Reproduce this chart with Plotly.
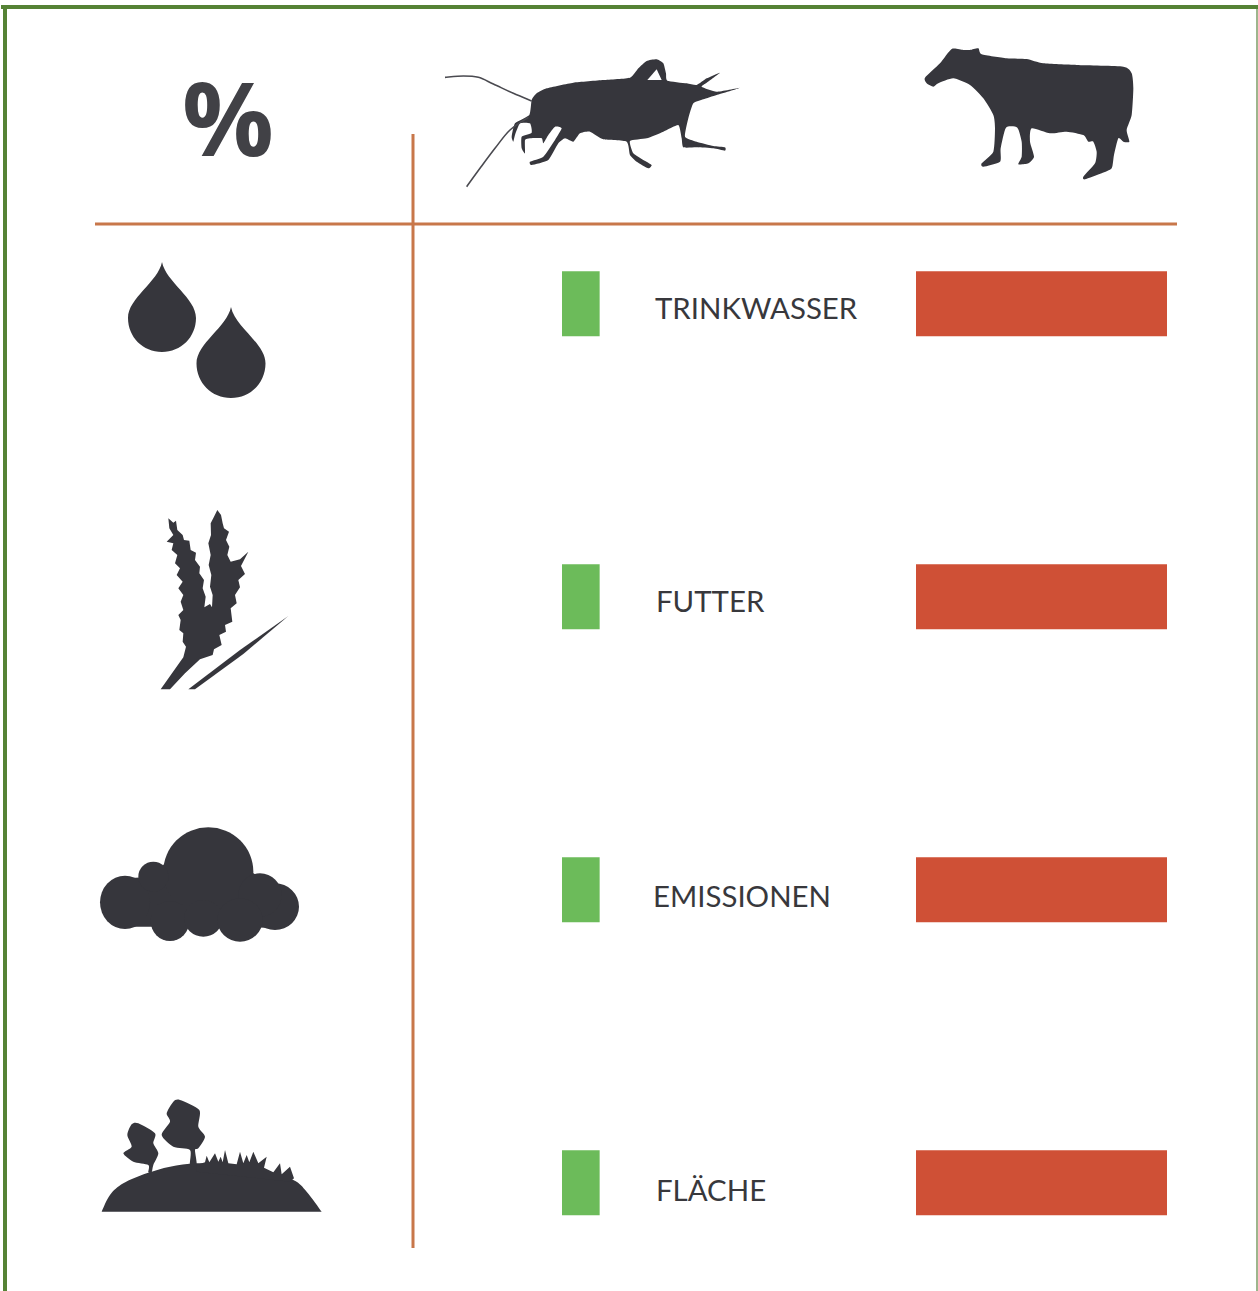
import plotly.graph_objects as go

W, H = 1258, 1291

# ---- data ----
categories = ["TRINKWASSER", "FUTTER", "EMISSIONEN", "FLÄCHE"]
grille_values = [15, 15, 15, 15]
rind_values = [100, 100, 100, 100]
symbol_label = "%"

INK = "#36363c"
RULE = "#c8774a"
GREEN = "#6cbb5a"
RED = "#cf5036"
FRAME = "#558235"
LABEL_X = [653, 654, 651, 654]
LABEL_Y = [307, 600.5, 895, 1189]


def pt(x, y, ox, oy, scale=3.0):
    return f"{(ox + x / scale) / W:.5f},{1 - (oy + y / scale) / H:.5f}"


def to_path(points, ox, oy, scale=3.0):
    """Straight-edged icon outline given in crop coordinates -> paper coordinates."""
    segs = [f"{'M' if i == 0 else 'L'}{pt(x, y, ox, oy, scale)}" for i, (x, y) in enumerate(points)]
    return " ".join(segs) + " Z"


def spline(points, ox, oy, closed=True, close_straight=False, scale=3.0, soft=6):
    """Catmull-Rom curve through the outline points; a larger soft gives tighter corners."""
    n = len(points)
    out = [f"M{pt(*points[0], ox, oy, scale)}"]
    count = n if closed else n - 1
    for i in range(count):
        if closed:
            p0, p1, p2, p3 = points[(i - 1) % n], points[i], points[(i + 1) % n], points[(i + 2) % n]
        else:
            p0, p1, p2, p3 = points[max(i - 1, 0)], points[i], points[i + 1], points[min(i + 2, n - 1)]
        c1 = (p1[0] + (p2[0] - p0[0]) / soft, p1[1] + (p2[1] - p0[1]) / soft)
        c2 = (p2[0] - (p3[0] - p1[0]) / soft, p2[1] - (p3[1] - p1[1]) / soft)
        out.append(f"C{pt(*c1, ox, oy, scale)} {pt(*c2, ox, oy, scale)} {pt(*p2, ox, oy, scale)}")
    if closed or close_straight:
        out.append("Z")
    return " ".join(out)


def blob(path, color=INK):
    return dict(type="path", xref="paper", yref="paper", path=path,
                fillcolor=color, line=dict(width=0), layer="above")


def stroke(path, width=1.6, color="#4a4a50"):
    return dict(type="path", xref="paper", yref="paper", path=path,
                line=dict(width=width, color=color), layer="above")


def ell(cx, cy, rx, ry, ox, oy, scale=3.0):
    x0 = (ox + (cx - rx) / scale) / W
    x1 = (ox + (cx + rx) / scale) / W
    y0 = 1 - (oy + (cy - ry) / scale) / H
    y1 = 1 - (oy + (cy + ry) / scale) / H
    return dict(type="circle", xref="paper", yref="paper", x0=x0, x1=x1, y0=y0, y1=y1,
                fillcolor=INK, line=dict(width=0), layer="above")


def hline(x0, x1, y, width, color):
    return dict(type="line", xref="paper", yref="paper", x0=x0 / W, x1=x1 / W,
                y0=1 - y / H, y1=1 - y / H, line=dict(color=color, width=width), layer="above")


def vline(x, y0, y1, width, color):
    return dict(type="line", xref="paper", yref="paper", x0=x / W, x1=x / W,
                y0=1 - y0 / H, y1=1 - y1 / H, line=dict(color=color, width=width), layer="above")


def drop(tipx, tipy, r, h):
    px = lambda x, y: f"{x / W:.5f},{1 - y / H:.5f}"
    b = tipy + h
    cy = b - r
    k = r * 0.56
    return (f"M{px(tipx, tipy)} "
            f"C{px(tipx + 4, tipy + 20)} {px(tipx + r, cy - 20)} {px(tipx + r, cy)} "
            f"C{px(tipx + r, cy + k)} {px(tipx + k, b)} {px(tipx, b)} "
            f"C{px(tipx - k, b)} {px(tipx - r, cy + k)} {px(tipx - r, cy)} "
            f"C{px(tipx - r, cy - 20)} {px(tipx - 4, tipy + 20)} {px(tipx, tipy)} Z")


cricket = [(305,180),(320,160),(350,145),(430,128),(520,120),(600,113),(625,85),(650,63),(680,58),(700,70),
           (708,100),(712,122),(770,130),(800,135),(830,115),(870,98),(830,128),(815,140),(860,155),(930,143),
           (860,165),(820,178),(790,190),(775,235),(765,290),(800,305),(850,318),(885,322),(885,332),(850,325),
           (800,322),(760,322),(755,295),(745,255),(700,275),(650,295),(600,303),(610,340),(640,360),(665,375),
           (655,385),(620,365),(600,345),(590,305),(520,298),(480,275),(450,280),(430,305),(405,295),(385,310),
           (355,360),(305,375),(300,365),(340,350),(375,300),(395,265),(375,260),(355,285),(340,310),(335,295),
           (300,295),(285,300),(285,340),(275,325),(275,290),(305,278),(300,250),(270,250),(255,285),(250,305),
           (245,290),(255,250),(298,225)]
cricket_hole = [(652,120),(680,88),(695,120)]
antenna_a = [(45,112),(100,108),(145,112),(190,132),(250,160),(305,183)]
antenna_b = [(295,232),(240,270),(195,325),(150,385),(110,440)]
cow = [(45,128),(90,85),(125,42),(160,45),(180,45),(205,40),(215,58),(290,70),(350,72),(400,85),(500,90),(640,95),
       (665,115),(670,160),(665,240),(650,285),(658,320),(640,320),(625,310),(612,360),(605,400),(575,415),(525,433),
       (520,425),(555,385),(560,350),(550,320),(535,320),(520,300),(470,290),(420,295),(365,280),(360,320),(372,365),
       (355,385),(325,388),(335,365),(335,320),(322,278),(288,278),(272,340),(270,380),(220,395),(215,385),(250,350),
       (255,280),(250,240),(220,190),(180,150),(130,130),(85,145),(70,155),(50,145)]
wheat = [(85,55),(100,68),(108,62),(112,90),(128,105),(132,120),(148,122),(152,150),(168,158),(165,180),(180,200),
         (178,220),(192,240),(188,265),(197,290),(193,322),(210,312),(216,322),(218,285),(210,260),(214,225),(206,195),
         (212,165),(205,130),(213,105),(212,70),(222,50),(232,30),(243,45),(248,70),(252,85),(267,95),(258,120),(268,140),
         (262,165),(272,185),(300,178),(325,155),(303,198),(315,222),(295,240),(300,262),(285,285),(290,310),(272,325),
         (277,365),(255,375),(258,395),(238,405),(245,435),(222,448),(218,465),(180,478),(135,520),(90,568),(62,568),
         (130,472),(138,440),(128,425),(130,400),(118,390),(122,360),(115,345),(130,330),(122,305),(130,285),(115,265),
         (128,245),(110,225),(120,205),(105,190),(112,165),(95,150),(100,130),(80,125),(100,105),(88,85)]
straw = [(145,568),(300,450),(445,348),(310,462),(165,568)]
hill = [(35,380),(60,330),(100,295),(170,265),(240,245),(320,235),(420,238),(520,255),(610,285),(650,320),(695,380)]
tree_small = [(175,262),(175,240),(130,230),(100,205),(125,185),(112,150),(125,118),(145,115),(195,145),(190,175),
              (205,205),(190,240),(185,262)]
tree_big = [(300,240),(300,195),(250,185),(215,150),(240,110),(230,85),(250,50),(270,45),(328,75),(325,125),(345,155),
            (325,190),(315,195),(320,240)]
grass = [(320,240),(345,232),(350,212),(358,232),(375,205),(385,230),(392,215),(398,232),(405,195),(415,235),(440,238),
         (450,200),(460,235),(470,210),(478,232),(490,200),(505,235),(530,215),(522,248),(550,262),(570,235),(575,268),
         (600,245),(612,280),(600,290),(320,260)]
cloud_core = [(40,262),(110,190),(190,185),(245,120),(470,120),(490,175),(555,210),(620,275),(555,340),
              (450,335),(240,335),(105,335)]
cloud_lobes = [(355,170,135,133),(105,262,75,80),(190,185,45,45),(555,275,72,70),(510,240,65,65),
               (240,318,58,60),(340,310,58,55),(450,315,68,65)]

shapes = [
    hline(1, 1258, 7, 4, FRAME),
    vline(5, 5, 1291, 4, FRAME),
    vline(1257, 9, 1291, 1.5, "#7c9c66"),
    hline(95, 1177, 224, 3, RULE),
    vline(413, 134, 1248, 3, RULE),
    blob(spline(cricket, 430, 40, soft=12)),
    blob(to_path(cricket_hole, 430, 40), "white"),
    stroke(spline(antenna_a, 430, 40, closed=False)),
    stroke(spline(antenna_b, 430, 40, closed=False)),
    blob(spline(cow, 910, 35, soft=10)),
    blob(drop(162, 262, 34, 90)),
    blob(drop(231, 307, 34.5, 91)),
    blob(to_path(wheat, 140, 500)),
    blob(to_path(straw, 140, 500)),
    blob(spline(hill, 90, 1085, closed=False, close_straight=True)),
    blob(spline(tree_small, 90, 1085, soft=8)),
    blob(spline(tree_big, 90, 1085, soft=8)),
    blob(to_path(grass, 90, 1085)),
    blob(to_path(cloud_core, 90, 815)),
]
for c in cloud_lobes:
    shapes.append(ell(*c, 90, 815))

fig = go.Figure()
fig.add_trace(go.Bar(y=categories, x=grille_values, orientation="h", marker=dict(color=GREEN, line_width=0),
                     xaxis="x", yaxis="y", showlegend=False, name="Grille"))
fig.add_trace(go.Bar(y=categories, x=rind_values, orientation="h", marker=dict(color=RED, line_width=0),
                     xaxis="x2", yaxis="y", showlegend=False, name="Rind"))

annotations = [
    dict(text=c, xref="paper", yref="paper", x=lx / W, y=1 - ly / H, xanchor="left", yanchor="middle",
         showarrow=False, font=dict(family="Lato", size=29.4, color="#38383c"))
    for c, lx, ly in zip(categories, LABEL_X, LABEL_Y)
]
annotations.append(dict(text=symbol_label, xref="paper", yref="paper", x=228 / W, y=1 - 116 / H,
                        xanchor="center", yanchor="middle", showarrow=False,
                        font=dict(family="Open Sans", size=102, weight=700, color="#414146")))

PX_PER_PCT = 2.51
fig.update_layout(
    width=W, height=H, margin=dict(l=0, r=0, t=0, b=0),
    paper_bgcolor="white", plot_bgcolor="white", bargap=1 - 65 / 293, barmode="overlay",
    shapes=shapes, annotations=annotations,
    xaxis=dict(domain=[562 / W, 900 / W], range=[0, 338 / PX_PER_PCT], visible=False, fixedrange=True),
    xaxis2=dict(domain=[916 / W, 1258 / W], range=[0, 342 / PX_PER_PCT], visible=False, fixedrange=True),
    yaxis=dict(domain=[0, 1], range=[(H - 303.7) / 293, -303.7 / 293], visible=False, fixedrange=True,
               type="category", categoryorder="array", categoryarray=categories),
)
fig.write_html("out.html", config={"displayModeBar": False},
               post_script="document.body.style.margin='0';document.body.style.overflow='hidden';")
